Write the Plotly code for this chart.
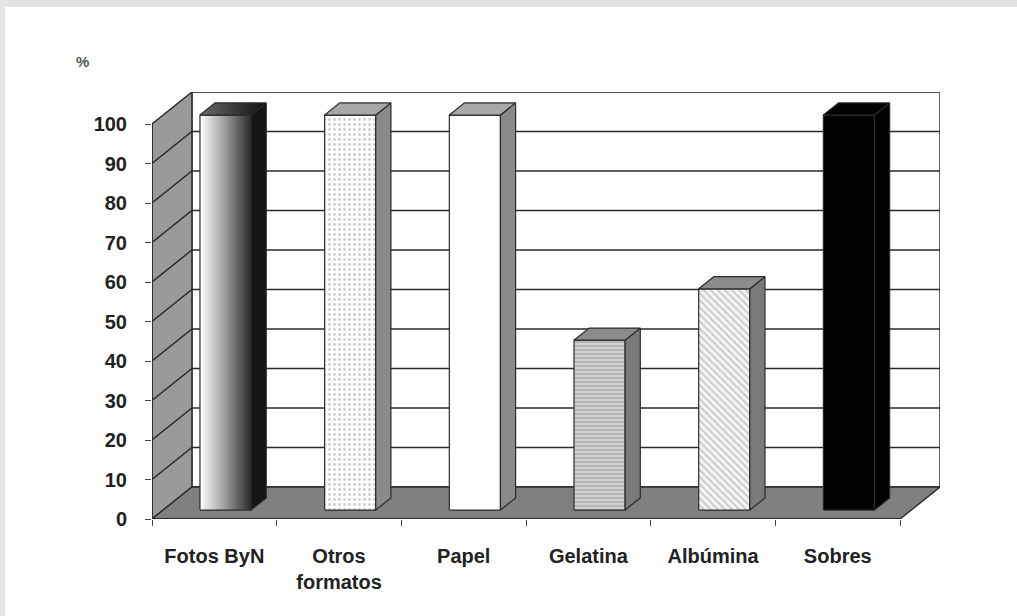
import plotly.graph_objects as go

# ---- data ----
categories = ["Fotos ByN", "Otros<br>formatos", "Papel", "Gelatina", "Albúmina", "Sobres"]
values = [100, 100, 100, 43, 56, 100]
y_ticks = [0, 10, 20, 30, 40, 50, 60, 70, 80, 90, 100]

# ---- pseudo-3D geometry (in axis units) ----
DX = 0.32    # depth offset along x (category units)
DY = 8.1     # depth offset along y (value units)
F1, F2 = 0.28, 0.66   # bar front/back depth fractions
BW = 0.41    # bar width
N = len(categories)
X0, X1 = -0.5, N - 0.5
LINE = "#2b2b2b"

fig = go.Figure()

def poly(xs, ys, fill="#ffffff", line=LINE, width=1.2, **kw):
    fig.add_trace(go.Scatter(
        x=list(xs) + [xs[0]], y=list(ys) + [ys[0]], mode="lines", fill="toself",
        fillcolor=fill, line=dict(color=line, width=width), hoverinfo="skip",
        showlegend=False, **kw))

def seg(xs, ys, color=LINE, width=1.6):
    fig.add_trace(go.Scatter(x=xs, y=ys, mode="lines", line=dict(color=color, width=width),
                             hoverinfo="skip", showlegend=False))

# back wall
poly([X0 + DX, X1 + DX, X1 + DX, X0 + DX], [DY, DY, 100 + DY, 100 + DY], fill="#ffffff", line="#555555", width=1.8)
# left wall
poly([X0, X0, X0 + DX, X0 + DX], [0, 100, 100 + DY, DY], fill="#9a9a9a", line=LINE, width=1.4)
# gridlines
gx, gy = [], []
for v in y_ticks[1:-1]:
    gx += [X0, X0 + DX, X1 + DX, None]
    gy += [v, v + DY, v + DY, None]
seg(gx, gy, color=LINE, width=1.5)
# floor
poly([X0, X1, X1 + DX, X0 + DX], [0, 0, DY, DY], fill="#808080", line=LINE, width=1.4)
# front floor edge / front wall edge
seg([X0, X1], [0, 0], color=LINE, width=1.8)
seg([X0, X0], [0, 100], color=LINE, width=1.6)

# bar styles
styles = [
    dict(front=dict(fillgradient=dict(type="horizontal",
                                      colorscale=[[0, "#ffffff"], [0.5, "#9a9a9a"], [1, "#2a2a2a"]])),
         side="#151515", top=dict(fillgradient=dict(type="horizontal",
                                                   colorscale=[[0, "#6a6a6a"], [1, "#101010"]]))),
    dict(front=dict(fillpattern=dict(shape=".", fgcolor="#9a9a9a", bgcolor="#ffffff", size=5, solidity=0.25)),
         side="#8a8a8a", top=dict(fillcolor="#a8a8a8")),
    dict(front=dict(fillcolor="#ffffff"), side="#8a8a8a", top=dict(fillcolor="#a8a8a8")),
    dict(front=dict(fillpattern=dict(shape="-", fgcolor="#8c8c8c", bgcolor="#d0d0d0", size=4, solidity=0.4)),
         side="#7a7a7a", top=dict(fillcolor="#8c8c8c")),
    dict(front=dict(fillpattern=dict(shape="\\", fgcolor="#9a9a9a", bgcolor="#f4f4f4", size=5, solidity=0.35)),
         side="#7a7a7a", top=dict(fillcolor="#8c8c8c")),
    dict(front=dict(fillcolor="#000000"), side="#000000", top=dict(fillcolor="#000000")),
]

for i, (v, st) in enumerate(zip(values, styles)):
    xl = i - BW / 2
    xr = i + BW / 2
    fx, fy = F1 * DX, F1 * DY
    bx, by = F2 * DX, F2 * DY
    fr = dict(st["front"])
    fc = fr.pop("fillcolor", "#ffffff")
    fig.add_trace(go.Scatter(
        x=[xl + fx, xr + fx, xr + fx, xl + fx, xl + fx],
        y=[fy, fy, v + fy, v + fy, fy], mode="lines", fill="toself", fillcolor=fc,
        line=dict(color=LINE, width=1.2), hoverinfo="skip", showlegend=False, **fr))
    poly([xr + fx, xr + bx, xr + bx, xr + fx], [fy, by, v + by, v + fy], fill=st["side"])
    tp = dict(st["top"])
    tc = tp.pop("fillcolor", "#888888")
    fig.add_trace(go.Scatter(
        x=[xl + fx, xr + fx, xr + bx, xl + bx, xl + fx],
        y=[v + fy, v + fy, v + by, v + by, v + fy], mode="lines", fill="toself", fillcolor=tc,
        line=dict(color=LINE, width=1.2), hoverinfo="skip", showlegend=False, **tp))

font = dict(family="Liberation Sans, Arial, sans-serif", size=20, color="#222222", weight="bold")

fig.update_layout(
    width=1017, height=616,
    margin=dict(l=152, r=77, t=92, b=97),
    paper_bgcolor="#ffffff", plot_bgcolor="#ffffff",
    showlegend=False,
    xaxis=dict(range=[X0, X1 + DX], tickmode="array", tickvals=list(range(N)), ticktext=categories,
               ticks="", showgrid=False, zeroline=False, showline=False, tickfont=font,
               ticklabelstandoff=23,
               minor=dict(tickmode="array", tickvals=[X0 + k for k in range(N + 1)], ticks="outside",
                          ticklen=6, tickwidth=1.2, tickcolor="#444444", showgrid=False),
               fixedrange=True),
    yaxis=dict(range=[0, 100 + DY], tickmode="array", tickvals=y_ticks, ticks="outside", ticklen=6,
               tickwidth=1.2, tickcolor="#444444", showgrid=False, zeroline=False, showline=False,
               tickfont=font, ticklabelstandoff=14, fixedrange=True),
    shapes=[
        dict(type="rect", xref="paper", yref="paper", x0=-152 / 788, x1=-147 / 788,
             y0=(519 - 616) / 427, y1=519 / 427, fillcolor="#e4e4e4", line=dict(width=0), layer="below"),
        dict(type="rect", xref="paper", yref="paper", x0=-152 / 788, x1=865 / 788,
             y0=(519 - 7) / 427, y1=519 / 427, fillcolor="#e4e4e4", line=dict(width=0), layer="below"),
    ],
    annotations=[dict(text="%", xref="paper", yref="paper", x=(82 - 152) / 788, y=(519 - 62) / 427,
                      xanchor="center", yanchor="middle", showarrow=False,
                      font=dict(family="Liberation Sans, Arial, sans-serif", size=15,
                                color="#555555", weight="bold"))],
)

fig.write_html("out.html", config={"displayModeBar": False},
               post_script="document.body.style.margin='0';document.body.style.overflow='hidden';")
